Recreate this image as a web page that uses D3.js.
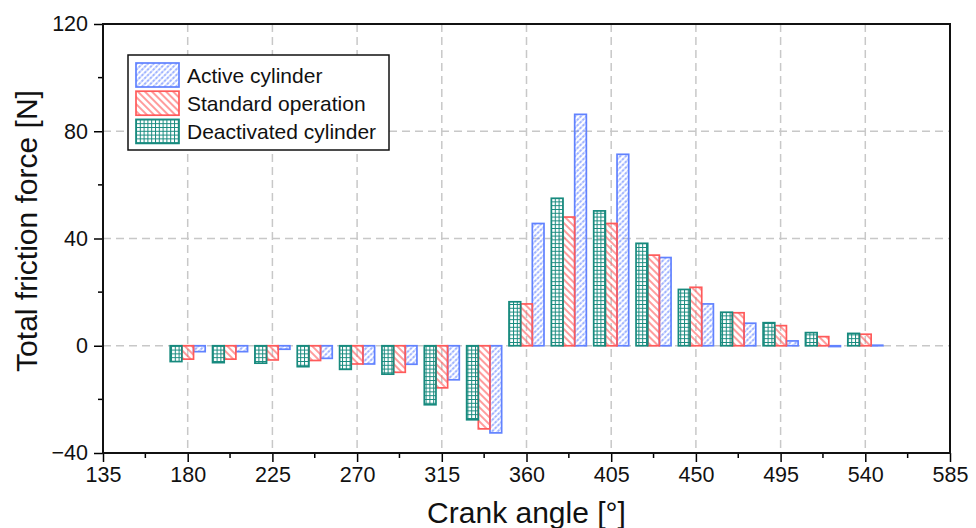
<!DOCTYPE html>
<html>
<head>
<meta charset="utf-8">
<script src="https://cdn.jsdelivr.net/npm/d3@7"></script>
<style>
  body { margin: 0; background: #fff; }
  svg { display: block; font-family: "Liberation Sans", Arial, sans-serif; }
  .grid line { stroke: #c8c8c8; stroke-width: 1.5; stroke-dasharray: 8 5; }
</style>
</head>
<body>
<div id="chart"></div>
<script>
// Kurbelwinkel der Balkengruppen
const angles = [180, 202.5, 225, 247.5, 270, 292.5, 315, 337.5, 360, 382.5, 405, 427.5, 450, 472.5, 495, 517.5, 540];
// Reibkraft je Betriebsart [N]
const deactivated = [-5.9, -6.3, -6.5, -7.8, -8.8, -10.6, -22, -27.6, 16.4, 55, 50.3, 38.2, 21.0, 12.5, 8.6, 4.9, 4.6];
const standard = [-5.0, -5.0, -5.3, -5.5, -6.8, -9.9, -15.7, -31, 15.6, 48, 45.6, 33.8, 21.8, 12.3, 7.5, 3.4, 4.3];
const active = [-2.2, -2.2, -1.3, -4.7, -6.8, -6.9, -12.7, -32.5, 45.6, 86.3, 71.4, 32.9, 15.6, 8.4, 1.8, -0.3, 0.2];

const xTicks = [135, 180, 225, 270, 315, 360, 405, 450, 495, 540, 585];
const yTicks = [-40, 0, 40, 80, 120];

const series = [
    { name: "Active cylinder", values: active, color: "#6182ff", pattern: "patActive", offset: 1 },
    { name: "Standard operation", values: standard, color: "#ff5a5a", pattern: "patStandard", offset: 0 },
    { name: "Deactivated cylinder", values: deactivated, color: "#178a7e", pattern: "patDeact", offset: -1 }
];

const width = 976, height = 528;
const margin = { left: 103, right: 26, top: 24, bottom: 75 };
const barW = 6.2; // in Grad

const svg = d3.select("#chart").append("svg")
    .attr("width", width)
    .attr("height", height);

const x = d3.scaleLinear().domain([135, 585]).range([margin.left, width - margin.right]);
const y = d3.scaleLinear().domain([-40, 120]).range([height - margin.bottom, margin.top]);

// Schraffuren
const defs = svg.append("defs");

const pA = defs.append("pattern")
    .attr("id", "patActive")
    .attr("patternUnits", "userSpaceOnUse")
    .attr("width", 4).attr("height", 4)
    .attr("patternTransform", "rotate(45)");
pA.append("line")
    .attr("x1", 1).attr("y1", 0).attr("x2", 1).attr("y2", 4)
    .attr("stroke", "#6182ff").attr("stroke-width", 1.2)
    .attr("stroke-dasharray", "1.6 0.9");

const pS = defs.append("pattern")
    .attr("id", "patStandard")
    .attr("patternUnits", "userSpaceOnUse")
    .attr("width", 5).attr("height", 5)
    .attr("patternTransform", "rotate(-45)");
pS.append("line")
    .attr("x1", 1).attr("y1", 0).attr("x2", 1).attr("y2", 5)
    .attr("stroke", "#ff5a5a").attr("stroke-width", 1.2);

const pD = defs.append("pattern")
    .attr("id", "patDeact")
    .attr("patternUnits", "userSpaceOnUse")
    .attr("width", 3.8).attr("height", 3.8);
pD.append("path")
    .attr("d", "M0,0.5H3.8M0.5,0V3.8")
    .attr("stroke", "#178a7e").attr("stroke-width", 1);

// Gitterlinien
const grid = svg.append("g").attr("class", "grid");
grid.selectAll(".gx")
    .data(xTicks.slice(1, -1))
    .join("line")
    .attr("x1", d => x(d)).attr("x2", d => x(d))
    .attr("y1", y(120)).attr("y2", y(-40));
grid.selectAll(".gy")
    .data([0, 40, 80])
    .join("line")
    .attr("y1", d => y(d)).attr("y2", d => y(d))
    .attr("x1", x(135)).attr("x2", x(585));

// Balken
series.forEach(s => {
    svg.append("g")
        .selectAll("rect")
        .data(angles.map((a, i) => ({ a, v: s.values[i] })))
        .join("rect")
        .attr("x", d => x(d.a + (s.offset - 0.5) * barW))
        .attr("width", x(barW) - x(0))
        .attr("y", d => y(Math.max(0, d.v)))
        .attr("height", d => Math.abs(y(d.v) - y(0)))
        .attr("fill", `url(#${s.pattern})`)
        .attr("stroke", s.color)
        .attr("stroke-width", 1.7);
});

// Achsen
const xAxis = d3.axisBottom(x).tickValues(xTicks).tickSize(9).tickPadding(5).tickFormat(d3.format("d"));
const yAxis = d3.axisLeft(y).tickValues(yTicks).tickSize(9).tickPadding(6).tickFormat(d => d < 0 ? "\u2212" + Math.abs(d) : d);

const gx = svg.append("g")
    .attr("transform", `translate(0,${y(-40)})`)
    .call(xAxis);
const gy = svg.append("g")
    .attr("transform", `translate(${x(135)},0)`)
    .call(yAxis);

// Nebenstriche
const xMinor = d3.range(157.5, 585, 45);
const yMinor = [-20, 20, 60, 100];
gx.selectAll(".minor").data(xMinor).join("line")
    .attr("x1", d => x(d)).attr("x2", d => x(d))
    .attr("y1", 0).attr("y2", 5)
    .attr("stroke", "#000").attr("stroke-width", 1.5);
gy.selectAll(".minor").data(yMinor).join("line")
    .attr("y1", d => y(d)).attr("y2", d => y(d))
    .attr("x1", 0).attr("x2", -5)
    .attr("stroke", "#000").attr("stroke-width", 1.5);

[gx, gy].forEach(g => {
    g.select(".domain").remove();
    g.selectAll(".tick line").attr("stroke", "#000").attr("stroke-width", 1.5);
    g.selectAll("text").attr("font-size", 21.5).attr("fill", "#111")
        .style("font-family", "'Liberation Sans', Arial, sans-serif");
});

// Rahmen
svg.append("rect")
    .attr("x", x(135)).attr("y", y(120))
    .attr("width", x(585) - x(135))
    .attr("height", y(-40) - y(120))
    .attr("fill", "none")
    .attr("stroke", "#111")
    .attr("stroke-width", 2);

// Achsentitel
svg.append("text")
    .attr("x", (x(135) + x(585)) / 2)
    .attr("y", 523)
    .attr("text-anchor", "middle")
    .attr("font-size", 30)
    .attr("fill", "#111")
    .text("Crank angle [°]");

svg.append("text")
    .attr("transform", `translate(37,${231}) rotate(-90)`)
    .attr("text-anchor", "middle")
    .attr("font-size", 30)
    .attr("fill", "#111")
    .text("Total friction force [N]");

// Legende
const legend = svg.append("g").attr("transform", "translate(128,55)");
legend.append("rect")
    .attr("width", 261).attr("height", 95)
    .attr("fill", "#fff")
    .attr("stroke", "#111")
    .attr("stroke-width", 1.5);

series.forEach((s, i) => {
    const row = legend.append("g").attr("transform", `translate(8,${8 + i * 28.2})`);
    row.append("rect")
        .attr("width", 43).attr("height", 24)
        .attr("fill", `url(#${s.pattern})`)
        .attr("stroke", s.color)
        .attr("stroke-width", 1.7);
    row.append("text")
        .attr("x", 51).attr("y", 19.5)
        .attr("font-size", 21)
        .attr("fill", "#111")
        .text(s.name);
});
</script>
</body>
</html>
